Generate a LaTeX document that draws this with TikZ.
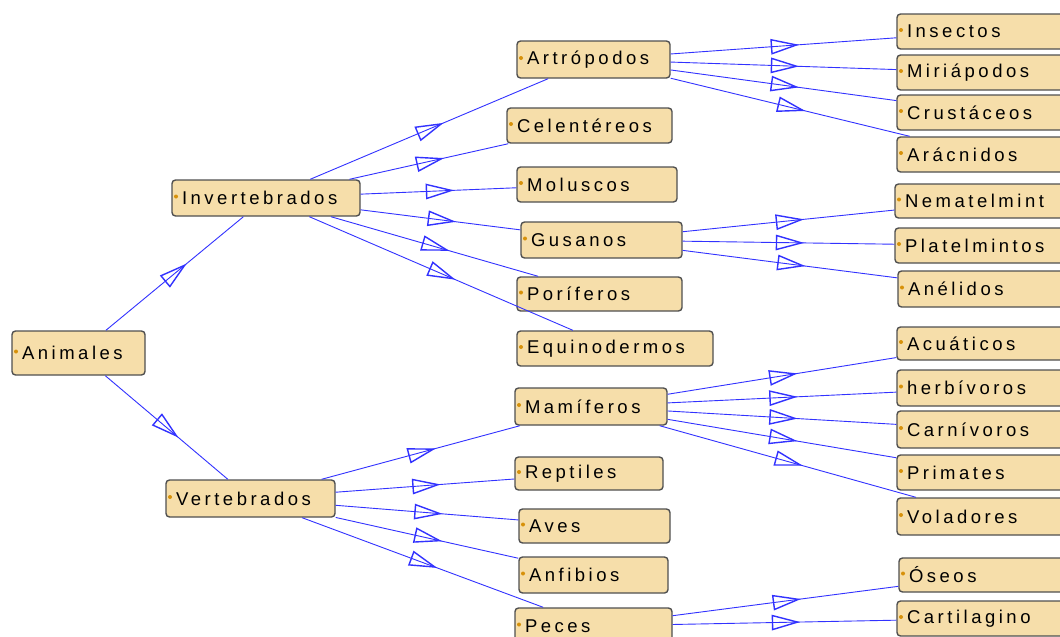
\documentclass[tikz,border=0pt]{standalone}
\usepackage{fontspec}
\setmainfont{Liberation Sans}[LetterSpace=19]
\usetikzlibrary{decorations.markings}
\definecolor{boxfill}{RGB}{246,222,170}
\definecolor{boxline}{RGB}{80,80,80}
\definecolor{lineblue}{RGB}{50,50,255}
\definecolor{dotc}{RGB}{215,145,10}
\newcommand\bx[6]{%
  \pgfmathsetmacro\bxw{#4-#2}\pgfmathsetmacro\bxh{#5-#3}\pgfmathsetmacro\bxtw{#4-#2-20}%
  \pgfmathsetmacro\bxcx{(#2+#4)/2}\pgfmathsetmacro\bxcy{(#3+#5)/2}%
  \node[box, minimum width=\bxw pt, minimum height=\bxh pt, text width=\bxtw pt] (#1) at (\bxcx,\bxcy) {#6};}
\begin{document}
\begin{tikzpicture}[x=1pt,y=-1pt,
  box/.style={draw=boxline, line width=1.4pt, fill=boxfill, rounded corners=3.5pt,
    inner xsep=9pt, inner ysep=0pt, align=left, font=\fontsize{18.5}{20}\selectfont,
    path picture={\fill[dotc] ([xshift=4pt,yshift=1.5pt]path picture bounding box.west) circle (2pt);}},
  conn/.style={draw=lineblue, line width=0.9pt, postaction={decorate},
    decoration={markings, mark=at position 0.5 with {%
      \draw[lineblue, line width=1.4pt, line join=miter] (-12pt,-7pt) -- (13pt,0pt) -- (-12pt,7pt) -- cycle;}}}]
\useasboundingbox (0,0) rectangle (1060,637);
\fill[white] (0,0) rectangle (1060,637);
\clip (0,0) rectangle (1060,637);
% root and first level
\bx{animales}{12}{331}{145}{375}{Animales}
\bx{invert}{172}{180}{360}{216}{Invertebrados}
\bx{vert}{166}{480}{335}{517}{Vertebrados}
% invertebrate groups
\bx{artro}{517}{41}{670}{78}{Artrópodos}
\bx{celen}{507}{108}{672}{143}{Celentéreos}
\bx{molus}{517}{167}{677}{202}{Moluscos}
\bx{gusan}{521}{222}{682}{258}{Gusanos}
\bx{porif}{517}{277}{682}{311}{Poríferos}
\bx{equin}{517}{331}{713}{366}{Equinodermos}
% vertebrate groups
\bx{mamif}{515}{388}{667}{425}{Mamíferos}
\bx{rept}{515}{457}{663}{490}{Reptiles}
\bx{aves}{519}{509}{670}{543}{Aves}
\bx{anfib}{519}{557}{668}{593}{Anfibios}
\bx{peces}{515}{608}{672}{644}{Peces}
% leaves
\bx{insect}{897}{14}{1072}{49}{Insectos}
\bx{miria}{897}{55}{1072}{90}{Miriápodos}
\bx{crust}{897}{95}{1072}{130}{Crustáceos}
\bx{aracn}{897}{137}{1072}{172}{Arácnidos}
\bx{nemat}{895}{184}{1072}{218}{Nematelmint}
\bx{platel}{895}{228}{1072}{263}{Platelmintos}
\bx{aneli}{898}{271}{1072}{307}{Anélidos}
\bx{acuat}{897}{327}{1072}{360}{Acuáticos}
\bx{herbi}{897}{370}{1072}{406}{herbívoros}
\bx{carni}{897}{411}{1072}{448}{Carnívoros}
\bx{prim}{897}{455}{1072}{490}{Primates}
\bx{volad}{897}{498}{1072}{535}{Voladores}
\bx{oseos}{899}{558}{1072}{592}{Óseos}
\bx{cartil}{897}{601}{1072}{636}{Cartilagino}
% connectors, each with an open triangle at its middle
\foreach \a/\b in {animales/invert, animales/vert,
  invert/artro, invert/celen, invert/molus, invert/gusan, invert/porif, invert/equin,
  vert/mamif, vert/rept, vert/aves, vert/anfib, vert/peces,
  artro/insect, artro/miria, artro/crust, artro/aracn,
  gusan/nemat, gusan/platel, gusan/aneli,
  mamif/acuat, mamif/herbi, mamif/carni, mamif/prim, mamif/volad,
  peces/oseos, peces/cartil}
  \path[conn] (\a) -- (\b);
\end{tikzpicture}
\end{document}
